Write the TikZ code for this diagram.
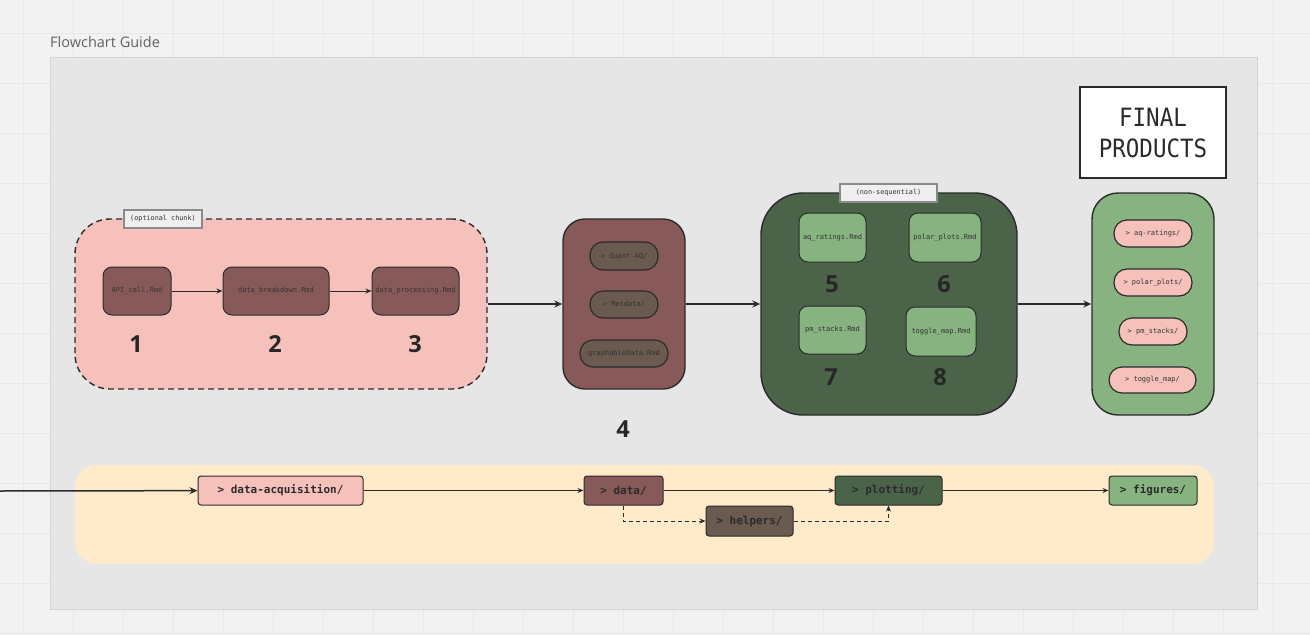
\documentclass[tikz,border=0pt]{standalone}
\usepackage{fontspec}
\usepackage{graphicx}
\setmainfont{Open Sans}
\newfontfamily\monof{DejaVu Sans Mono}
\usetikzlibrary{arrows.meta}
\definecolor{bgc}{HTML}{F2F2F2}
\definecolor{gridc}{HTML}{E8E8E8}
\definecolor{framec}{HTML}{E6E6E6}
\definecolor{frameb}{HTML}{D4D4D4}
\definecolor{pinkc}{HTML}{F7C1BB}
\definecolor{brownc}{HTML}{875A59}
\definecolor{greyb}{HTML}{6A5A4F}
\definecolor{dgreen}{HTML}{4A6349}
\definecolor{lgreen}{HTML}{86B37F}
\definecolor{yellc}{HTML}{FFEBC9}
\definecolor{linec}{HTML}{2B2B2B}
\definecolor{txtc}{HTML}{333333}
\definecolor{labelf}{HTML}{EFEFEF}
\definecolor{labelb}{HTML}{8A8A8A}
\begin{document}
\begin{tikzpicture}[x=1pt,y=-1pt,
  region/.style={draw=linec,line width=1.4pt,inner sep=0pt},
  small/.style={draw=linec,line width=1pt,inner sep=0pt,rounded corners=9pt,
     font=\monof\fontsize{7}{8}\selectfont,text=txtc},
  pill/.style={draw=linec,line width=1.2pt,inner sep=0pt,rounded corners=13pt,
     font=\monof\fontsize{7}{8}\selectfont,text=txtc},
  tag/.style={draw=labelb,fill=labelf,line width=1.2pt,inner sep=0pt,
     font=\monof\fontsize{6.8}{8}\selectfont,text=txtc},
  num/.style={font=\bfseries\fontsize{23.5}{26}\selectfont,text=linec!90!black,inner sep=0pt},
  folder/.style={draw=linec,line width=1pt,inner sep=0pt,rounded corners=3pt,
     minimum height=29pt,font=\monof\bfseries\fontsize{11}{12}\selectfont,text=linec},
  bigarr/.style={draw=linec,line width=1.5pt,-{Stealth[length=8pt,width=7pt]}},
  thinarr/.style={draw=linec,line width=1pt,-{Stealth[length=6pt,width=5pt]}},
  dasharr/.style={draw=linec,line width=1pt,dash pattern=on 4pt off 3pt,-{Stealth[length=6pt,width=5pt]}}
]
\useasboundingbox (0,0) rectangle (1310,635);
\fill[bgc] (0,0) rectangle (1310,635);
\foreach \gx in {23,73,...,1310} \draw[gridc,line width=0.8pt] (\gx,0) -- (\gx,635);
\foreach \gy in {33,83,...,635} \draw[gridc,line width=0.8pt] (0,\gy) -- (1310,\gy);

% frame
\node[anchor=south west,inner sep=0pt,font=\fontsize{14.5}{16}\selectfont,text=black!62] (title) at (50,47.5) {Flowchart Guide};
\node[draw=frameb,fill=framec,line width=0.8pt,inner sep=0pt,minimum width=1207pt,minimum height=552pt] (frame) at (653.5,333) {};

% pink region
\node[region,dashed,dash pattern=on 6pt off 4pt,fill=pinkc,rounded corners=35pt,minimum width=412pt,minimum height=170pt] (pinkreg) at (281,304) {};
\node[tag,minimum width=78pt,minimum height=18pt] (opt) at (163,219) {(optional chunk)};
\node[small,fill=brownc,minimum width=68pt,minimum height=48pt] (n1) at (137,291) {API\_call.Rmd};
\node[small,fill=brownc,minimum width=106pt,minimum height=48pt] (n2) at (276,291) {data\_breakdown.Rmd};
\node[small,fill=brownc,minimum width=87pt,minimum height=48pt] (n3) at (415.5,291) {data\_processing.Rmd};
\draw[thinarr] (n1) -- (n2);
\draw[thinarr] (n2) -- (n3);
\node[num] (l1) at (136,344) {1};
\node[num] (l2) at (275,344) {2};
\node[num] (l3) at (415,344) {3};

% box 4
\node[region,fill=brownc,rounded corners=22pt,minimum width=122pt,minimum height=170pt] (box4) at (624,304) {};
\node[pill,fill=greyb,minimum width=68pt,minimum height=28pt] (qaq) at (624,256) {> Quant-AQ/};
\node[pill,fill=greyb,minimum width=68pt,minimum height=27pt] (met) at (624,304.5) {> Metdata/};
\node[pill,fill=greyb,minimum width=88pt,minimum height=27pt] (gd) at (624,353.5) {graphableData.Rmd};
\node[num] (l4) at (623,429) {4};
\draw[bigarr] (pinkreg) -- (box4);

% green region
\node[region,fill=dgreen,rounded corners=42pt,minimum width=256pt,minimum height=222pt] (greg) at (889,304) {};
\node[tag,minimum width=97pt,minimum height=18pt] (nonseq) at (888.5,193) {(non-sequential)};
\node[small,fill=lgreen,minimum width=67pt,minimum height=49pt] (n5) at (832.5,237.5) {aq\_ratings.Rmd};
\node[small,fill=lgreen,minimum width=72pt,minimum height=49pt] (n6) at (945,237.5) {polar\_plots.Rmd};
\node[small,fill=lgreen,minimum width=67pt,minimum height=48pt] (n7) at (832.5,330) {pm\_stacks.Rmd};
\node[small,fill=lgreen,minimum width=70pt,minimum height=49pt] (n8) at (941,331.5) {toggle\_map.Rmd};
\node[num] (l5) at (832,284) {5};
\node[num] (l6) at (944,284) {6};
\node[num] (l7) at (831,377) {7};
\node[num] (l8) at (940,377) {8};
\draw[bigarr] (box4) -- (greg);

% final products
\node[draw=linec,fill=white,line width=1.8pt,inner sep=0pt,minimum width=146pt,minimum height=91pt,
  align=center,font=\monof\fontsize{22.5}{31}\selectfont,text=linec] (fp) at (1153,132.5)
  {\scalebox{1}[1.12]{FINAL}\\\scalebox{1}[1.12]{PRODUCTS}};
\node[region,fill=lgreen,rounded corners=26pt,minimum width=122pt,minimum height=222pt] (fbox) at (1153,304) {};
\node[pill,fill=pinkc,minimum width=78pt,minimum height=27pt] (f1) at (1153,233.5) {> aq-ratings/};
\node[pill,fill=pinkc,minimum width=78pt,minimum height=27pt] (f2) at (1153,282.5) {> polar\_plots/};
\node[pill,fill=pinkc,minimum width=68pt,minimum height=27pt] (f3) at (1153,331.5) {> pm\_stacks/};
\node[pill,fill=pinkc,minimum width=87pt,minimum height=26pt] (f4) at (1152.5,380) {> toggle\_map/};
\draw[bigarr] (greg) -- (fbox);

% bottom strip
\node[fill=yellc,inner sep=0pt,rounded corners=22pt,minimum width=1139pt,minimum height=99pt] (strip) at (644.5,514.5) {};
\coordinate (src) at (0,491);
\node[folder,fill=pinkc,minimum width=165pt] (dacq) at (280.5,490.5) {> data-acquisition/};
\node[folder,fill=brownc,minimum width=79pt] (data) at (623.5,490.5) {> data/};
\node[folder,fill=dgreen,minimum width=107pt] (plot) at (888.5,490.5) {> plotting/};
\node[folder,fill=lgreen,minimum width=88pt] (figs) at (1153,490.5) {> figures/};
\node[folder,fill=greyb,minimum width=87pt,minimum height=30pt] (help) at (749.5,521) {> helpers/};
\draw[bigarr] (src) -- (dacq);
\draw[thinarr] (dacq) -- (data);
\draw[thinarr] (data) -- (plot);
\draw[thinarr] (plot) -- (figs);
\draw[dasharr] (data.south) |- (help.west);
\draw[dasharr] (help.east) -| (plot.south);
\end{tikzpicture}
\end{document}
